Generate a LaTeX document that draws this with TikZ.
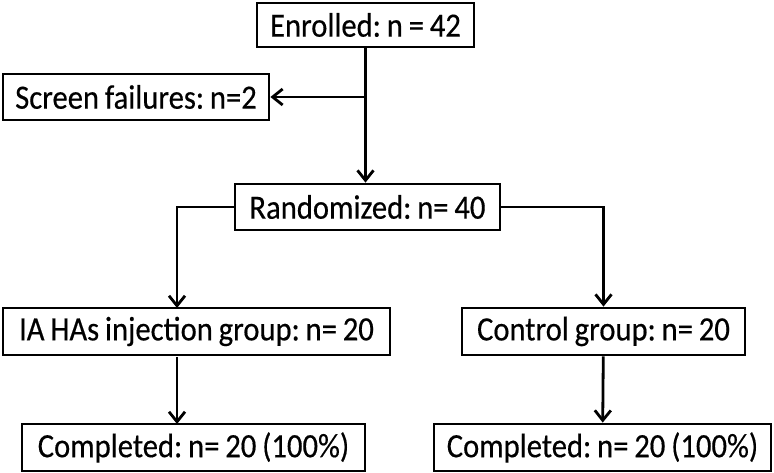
\documentclass[tikz,border=0pt]{standalone}
\usepackage{fontspec}
\setmainfont{Carlito}[FakeStretch=0.9,FakeBold=0.4,WordSpace=0.85]
\frenchspacing
\usepackage{tikz}
\usetikzlibrary{positioning,shapes,arrows,arrows.meta}

\begin{document}
\begin{tikzpicture}
            [x=0.75pt,y=-0.75pt,line width=2.1pt,
             every node/.style={draw, rectangle, fill=white, inner sep = 0pt, line width=2.1pt,
                                font=\fontsize{25.5}{29}\selectfont},
             arr/.style={-{Straight Barb[length=7.5pt,width=12pt]}}]
            \useasboundingbox (0,0) rectangle (774,473);
            \node[minimum width=217*0.75pt, minimum height=44*0.75pt] (enr) at (365.5,25) {Enrolled: n = 42};
            \node[minimum width=266*0.75pt, minimum height=46*0.75pt] (scr) at (136,97) {Screen failures: n=2};
            \node[minimum width=265*0.75pt, minimum height=46*0.75pt] (rnd) at (367.5,207) {Randomized: n= 40};
            \node[minimum width=387*0.75pt, minimum height=47*0.75pt] (ia) at (196.5,331.5) {IA HAs injection group: n= 20};
            \node[minimum width=283*0.75pt, minimum height=47*0.75pt] (ctl) at (603.5,331.5) {Control group: n= 20};
            \node[minimum width=343*0.75pt, minimum height=47*0.75pt] (cpl1) at (193.5,447.5) {Completed: n= 20 (100\%)};
            \node[minimum width=337*0.75pt, minimum height=47*0.75pt] (cpl2) at (602.5,447.5) {Completed: n= 20 (100\%)};

            \coordinate (split) at (enr.south |- scr.east);
            \coordinate (iaIn) at (177,308);
            \coordinate (iaOut) at (177,357);
            \coordinate (cplIn) at (177,424);

            \draw[arr] (enr.south) -- (enr.south |- rnd.north);
            \draw[arr] (split) -- (scr.east);
            \draw[arr] (rnd.west) -| (iaIn);
            \draw[arr] (rnd.east) -| (ctl.north);
            \foreach \from/\to in {iaOut/cplIn, ctl/cpl2}
            \draw[arr] (\from) -- (\to);
          \end{tikzpicture}
\end{document}
